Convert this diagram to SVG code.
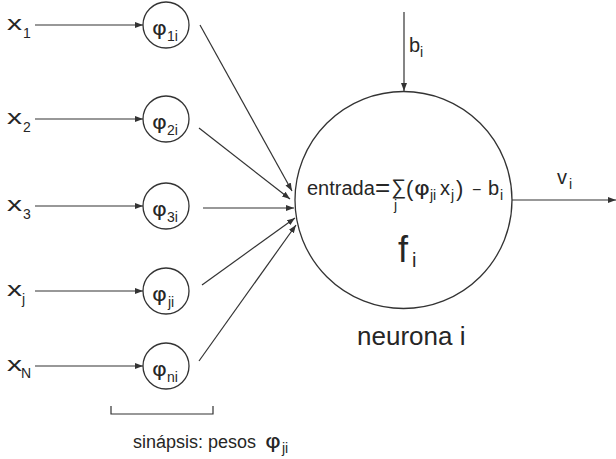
<svg xmlns="http://www.w3.org/2000/svg" width="616" height="459" viewBox="0 0 616 459">
<style>
text{font-family:"Liberation Sans",Arial,sans-serif;fill:#262626}
.c{fill:none;stroke:#333;stroke-width:1.3}
.l{stroke:#333;stroke-width:1.2;fill:none}
.a{marker-end:url(#ah)}
.lab{font-size:20px}
.sub{font-size:14px}
.phi{font-size:20px;font-family:"DejaVu Sans",sans-serif}
</style>
<defs>
<marker id="ah" markerUnits="userSpaceOnUse" markerWidth="9" markerHeight="7" refX="8" refY="3" orient="auto">
<path d="M0,0 L8,3 L0,6 z" fill="#333"/>
</marker>
</defs>
<rect width="616" height="459" fill="#fff"/>

<g id="connectors">
<line class="l a" x1="35" y1="25" x2="143" y2="25"/>
<line class="l a" x1="35" y1="119" x2="143" y2="119"/>
<line class="l a" x1="35" y1="206" x2="143" y2="206"/>
<line class="l a" x1="35" y1="291" x2="143" y2="291"/>
<line class="l a" x1="35" y1="366" x2="143" y2="366"/>
<line class="l a" x1="200" y1="25" x2="292" y2="191"/>
<line class="l a" x1="199" y1="128" x2="290" y2="199"/>
<line class="l a" x1="203" y1="208" x2="294" y2="208"/>
<line class="l a" x1="202" y1="285" x2="295" y2="218"/>
<line class="l a" x1="199" y1="361" x2="296" y2="225"/>
<line class="l a" x1="404" y1="12" x2="404" y2="91"/>
<line class="l a" x1="512" y1="200" x2="616" y2="200"/>
</g>

<g id="x1"><text class="lab" x="7" y="30" textLength="15" lengthAdjust="spacingAndGlyphs">x</text><text class="sub" x="23" y="38">1</text></g>
<g id="x2"><text class="lab" x="7" y="124" textLength="15" lengthAdjust="spacingAndGlyphs">x</text><text class="sub" x="23" y="132">2</text></g>
<g id="x3"><text class="lab" x="7" y="211" textLength="15" lengthAdjust="spacingAndGlyphs">x</text><text class="sub" x="23" y="219">3</text></g>
<g id="xj"><text class="lab" x="7" y="296" textLength="15" lengthAdjust="spacingAndGlyphs">x</text><text class="sub" x="22" y="304">j</text></g>
<g id="xN"><text class="lab" x="7" y="371" textLength="15" lengthAdjust="spacingAndGlyphs">x</text><text class="sub" x="21" y="378">N</text></g>

<g id="phi1"><circle class="c" cx="166" cy="25" r="23"/><text class="phi" x="152" y="35" textLength="15" lengthAdjust="spacingAndGlyphs">φ</text><text class="sub" x="167" y="41">1i</text></g>
<g id="phi2"><circle class="c" cx="166" cy="119" r="23"/><text class="phi" x="152" y="129" textLength="15" lengthAdjust="spacingAndGlyphs">φ</text><text class="sub" x="167" y="135">2i</text></g>
<g id="phi3"><circle class="c" cx="166" cy="206" r="23"/><text class="phi" x="152" y="216" textLength="15" lengthAdjust="spacingAndGlyphs">φ</text><text class="sub" x="167" y="222">3i</text></g>
<g id="phij"><circle class="c" cx="166" cy="291" r="23"/><text class="phi" x="152" y="301" textLength="15" lengthAdjust="spacingAndGlyphs">φ</text><text class="sub" x="168" y="307">ji</text></g>
<g id="phin"><circle class="c" cx="166" cy="366" r="23"/><text class="phi" x="152" y="376" textLength="15" lengthAdjust="spacingAndGlyphs">φ</text><text class="sub" x="167" y="382">ni</text></g>

<g id="neuron">
<circle class="c" cx="403.5" cy="200" r="108.5"/>
<text x="307" y="195" style="font-size:20px">entrada</text>
<text x="375" y="196" style="font-size:26px">=</text>
<text x="391" y="194" style="font-size:21px">∑</text>
<text x="394" y="210" style="font-size:14px">j</text>
<text x="406" y="196" style="font-size:22px">(</text>
<text class="phi" x="414" y="195" textLength="16" lengthAdjust="spacingAndGlyphs">φ</text>
<text x="430" y="200" style="font-size:14px">ji</text>
<text x="440" y="195" style="font-size:20px">x</text>
<text x="451" y="200" style="font-size:14px">j</text>
<text x="456" y="196" style="font-size:22px">)</text>
<text x="472" y="195" style="font-size:16px">−</text>
<text x="488" y="195" style="font-size:20px">b</text>
<text x="500" y="200" style="font-size:14px">i</text>
<text x="398" y="262" style="font-size:36px">f</text>
<text x="412" y="267" style="font-size:20px">i</text>
</g>

<g id="bias"><text x="409" y="52" style="font-size:20px">b</text><text x="420" y="57" style="font-size:14px">i</text></g>
<g id="output"><text x="557" y="184" style="font-size:20px">v</text><text x="569" y="189" style="font-size:14px">i</text></g>
<g id="label"><text x="357" y="345" style="font-size:26px">neurona i</text></g>

<g id="syn">
<path class="l" d="M111,406 V414 H213 V406"/>
<text x="133" y="448" style="font-size:18px">sinápsis: pesos</text>
<text class="phi" x="265" y="448" textLength="16" lengthAdjust="spacingAndGlyphs">φ</text>
<text x="282" y="453" style="font-size:14px">ji</text>
</g>
</svg>
